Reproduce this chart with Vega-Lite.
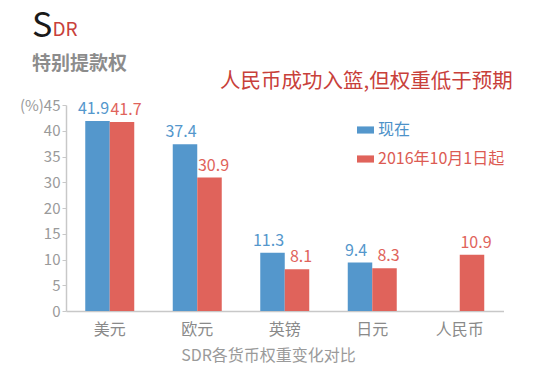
{
  "$schema": "https://vega.github.io/schema/vega-lite/v6.json",
  "width": 437.5,
  "height": 206,
  "autosize": {"type": "none"},
  "padding": {"left": 66, "top": 105, "right": 46.5, "bottom": 79},
  "background": "white",
  "config": {"font": "Noto Sans CJK SC", "view": {"stroke": null}},
  "title": {
    "text": "S",
    "subtitle": "特别提款权",
    "anchor": "start",
    "frame": "group",
    "fontSize": 34,
    "fontWeight": "normal",
    "color": "#1a1a1a",
    "subtitleFontSize": 19,
    "subtitleFontWeight": "bold",
    "subtitleColor": "#8c8c8c",
    "subtitlePadding": 11,
    "dx": -34,
    "dy": 54,
    "offset": 0
  },
  "data": {
    "values": [
      {"currency": "美元", "series": "现在", "weight": 41.9},
      {"currency": "美元", "series": "2016年10月1日起", "weight": 41.7},
      {"currency": "欧元", "series": "现在", "weight": 37.4},
      {"currency": "欧元", "series": "2016年10月1日起", "weight": 30.9},
      {"currency": "英镑", "series": "现在", "weight": 11.3},
      {"currency": "英镑", "series": "2016年10月1日起", "weight": 8.1},
      {"currency": "日元", "series": "现在", "weight": 9.4},
      {"currency": "日元", "series": "2016年10月1日起", "weight": 8.3},
      {"currency": "人民币", "series": "2016年10月1日起", "weight": 10.9}
    ]
  },
  "encoding": {
    "x": {
      "field": "currency",
      "type": "nominal",
      "sort": ["美元", "欧元", "英镑", "日元", "人民币"],
      "scale": {"paddingInner": 0.44, "paddingOuter": 0.22},
      "axis": {
        "labelAngle": 0,
        "labelColor": "#8a8a8a",
        "labelFontSize": 16,
        "labelPadding": 10,
        "ticks": false,
        "domainColor": "#c8c8c8",
        "domainWidth": 1.5,
        "title": "SDR各货币权重变化对比",
        "titleColor": "#9a9a9a",
        "titleFontSize": 16,
        "titleFontWeight": "normal",
        "titlePadding": 10,
        "titleX": 202
      }
    },
    "xOffset": {
      "field": "series",
      "type": "nominal",
      "scale": {"domain": ["现在", "2016年10月1日起"]}
    },
    "y": {
      "field": "weight",
      "type": "quantitative",
      "scale": {"domain": [0, 20, 30, 45], "range": [206, 103, 77.25, 0], "nice": false, "zero": false},
      "axis": {
        "values": [0, 5, 10, 15, 20, 30, 35, 40, 45],
        "labelExpr": "datum.value == 45 ? '(%)45' : datum.label",
        "labelColor": "#9a9a9a",
        "labelFontSize": 15,
        "labelPadding": 2,
        "tickSize": 4,
        "tickColor": "#c8c8c8",
        "domainColor": "#c8c8c8",
        "domainWidth": 1.5,
        "grid": false,
        "title": "DR",
        "titleColor": "#c8403a",
        "titleFontSize": 19,
        "titleFontWeight": "normal",
        "titleAngle": 0,
        "titleX": -14,
        "titleY": -70,
        "titleAlign": "left",
        "titleBaseline": "alphabetic"
      }
    },
    "color": {
      "field": "series",
      "type": "nominal",
      "scale": {"domain": ["现在", "2016年10月1日起"], "range": ["#5497cc", "#e0635b"]},
      "legend": {
        "orient": "none",
        "legendX": 154,
        "legendY": -33,
        "title": "人民币成功入篮,但权重低于预期",
        "titleFontSize": 20.5,
        "titleColor": "#c8403a",
        "titleFontWeight": "normal",
        "titlePadding": 29,
        "titleLimit": 400,
        "symbolType": "M-1,-0.42H1V0.42H-1Z",
        "symbolSize": 289,
        "symbolOffset": 137,
        "symbolStrokeWidth": 0,
        "symbolOpacity": 1,
        "labelFontSize": 16,
        "labelLimit": 300,
        "labelOffset": 4,
        "rowPadding": 12,
        "labelColor": {"expr": "datum.value === '现在' ? '#4d92c9' : '#dc5b53'"}
      }
    }
  },
  "layer": [
    {"mark": {"type": "bar"}},
    {
      "mark": {
        "type": "text",
        "dy": -4,
        "baseline": "bottom",
        "fontSize": 16,
        "dx": {"expr": "datum.series === '现在' ? -4 : 4"}
      },
      "encoding": {
        "text": {"field": "weight", "type": "quantitative", "format": ".1f"}
      }
    }
  ]
}
